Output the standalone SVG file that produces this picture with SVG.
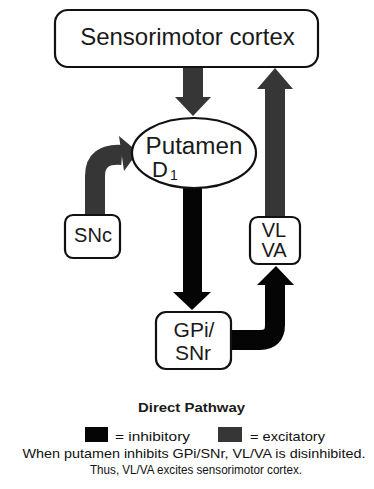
<svg xmlns="http://www.w3.org/2000/svg" width="374" height="489" viewBox="0 0 374 489">
<style>
.box{fill:#fff;stroke:#111;stroke-width:2.2}
.t{font-family:"Liberation Sans",Arial,sans-serif;fill:#1a1a1a;text-anchor:middle}
.exc{fill:#363636}
.inh{fill:#050505}
.excs{fill:none;stroke:#363636;stroke-width:20}
.inhs{fill:none;stroke:#050505;stroke-width:20}
</style>
<rect width="374" height="489" fill="#fff"/>
<g id="connectors">
<rect class="exc" x="183" y="67" width="20" height="31"/>
<polygon class="exc" points="175,97 211,97 193,116"/>
<rect class="exc" x="265" y="87" width="20" height="131"/>
<polygon class="exc" points="257,89 293,89 275,68"/>
<path class="excs" d="M95 216 V176 Q95 153 122 155"/>
<polygon class="exc" points="119,136 138,152 124,171"/>
<rect class="inh" x="183" y="187" width="19" height="106"/>
<polygon class="inh" points="173,292 211,292 192,310"/>
<path class="inhs" d="M230 340 H260 Q275 340 275 325 V284"/>
<polygon class="inh" points="257,285 294,285 276,266"/>
</g>
<g id="cortex">
<rect class="box" x="55" y="10" width="263" height="57" rx="13"/>
<text class="t" x="187.5" y="45" font-size="24">Sensorimotor cortex</text>
</g>
<g id="putamen">
<ellipse class="box" cx="194" cy="153" rx="62" ry="35"/>
<text class="t" x="194" y="154" font-size="23" textLength="97" lengthAdjust="spacingAndGlyphs">Putamen</text>
<text class="t" x="152" y="177" font-size="22" style="text-anchor:start">D<tspan font-size="14" dy="3" dx="2">1</tspan></text>
</g>
<g id="snc">
<rect class="box" x="65" y="215" width="55" height="43" rx="8"/>
<text class="t" x="93" y="242" font-size="20">SNc</text>
</g>
<g id="vlva">
<rect class="box" x="250" y="217" width="50" height="47" rx="8"/>
<text class="t" x="274" y="237" font-size="20">VL</text>
<text class="t" x="274" y="257" font-size="20">VA</text>
</g>
<g id="gpi">
<rect class="box" x="156" y="312" width="75" height="57" rx="10"/>
<text class="t" x="194" y="337" font-size="21">GPi/</text>
<text class="t" x="193" y="360" font-size="21">SNr</text>
</g>
<g id="legend">
<text class="t" x="191.5" y="412" font-size="13" font-weight="bold" textLength="107" lengthAdjust="spacingAndGlyphs">Direct Pathway</text>
<rect class="inh" x="85" y="427" width="23" height="15"/>
<text class="t" x="115" y="441" font-size="13" style="text-anchor:start;fill:#111" textLength="75" lengthAdjust="spacingAndGlyphs">= inhibitory</text>
<rect class="exc" x="218" y="427" width="24" height="15"/>
<text class="t" x="250" y="441" font-size="13" style="text-anchor:start;fill:#111" textLength="75" lengthAdjust="spacingAndGlyphs">= excitatory</text>
<text class="t" x="194" y="458" font-size="13" style="fill:#111" textLength="343" lengthAdjust="spacingAndGlyphs">When putamen inhibits GPi/SNr, VL/VA is disinhibited.</text>
<text class="t" x="196" y="474" font-size="13" style="fill:#111" textLength="212" lengthAdjust="spacingAndGlyphs">Thus, VL/VA excites sensorimotor cortex.</text>
</g>
</svg>
